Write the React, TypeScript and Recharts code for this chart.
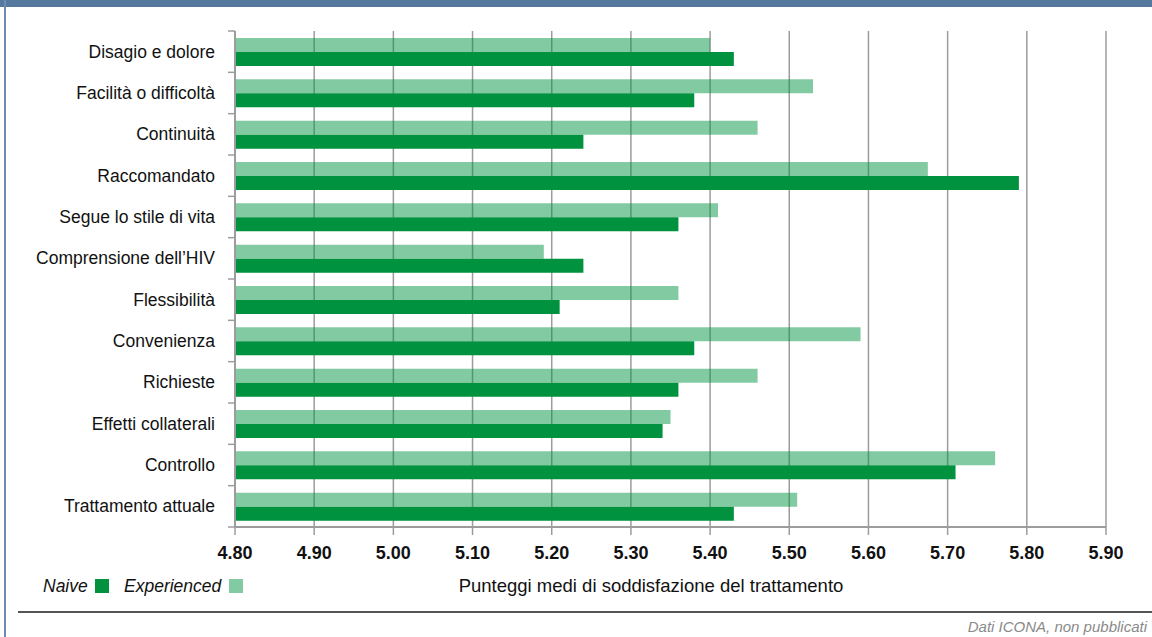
import React from "react";
import { BarChart, Bar, XAxis, YAxis, CartesianGrid } from "recharts";

const categories = [
  "Disagio e dolore",
  "Facilità o difficoltà",
  "Continuità",
  "Raccomandato",
  "Segue lo stile di vita",
  "Comprensione dell’HIV",
  "Flessibilità",
  "Convenienza",
  "Richieste",
  "Effetti collaterali",
  "Controllo",
  "Trattamento attuale",
];
const naive = [5.43, 5.38, 5.24, 5.79, 5.36, 5.24, 5.21, 5.38, 5.36, 5.34, 5.71, 5.43];
const experienced = [5.4, 5.53, 5.46, 5.675, 5.41, 5.19, 5.36, 5.59, 5.46, 5.35, 5.76, 5.51];
const xTicks = [4.8, 4.9, 5.0, 5.1, 5.2, 5.3, 5.4, 5.5, 5.6, 5.7, 5.8, 5.9];

const data = categories.map((name, i) => ({ name, naive: naive[i], experienced: experienced[i] }));

const GREEN = "#00923F";
const GRID = "#9c9c9c";
const FONT = '"Liberation Sans", Arial, sans-serif';

const YTick = (props: any) => {
  const { x, y, payload, index } = props;
  const off = payload && payload.offset ? payload.offset : 20.67;
  const axisX = x + 8;
  return (
    <g>
      <line x1={axisX - 7} x2={axisX} y1={y - off} y2={y - off} stroke={GRID} strokeWidth={1.5} />
      {index === categories.length - 1 && (
        <line x1={axisX - 7} x2={axisX} y1={y + off} y2={y + off} stroke={GRID} strokeWidth={1.5} />
      )}
      <text x={215} y={y} dy="0.35em" textAnchor="end" fontSize={17.5} fill="#111" fontFamily={FONT}>
        {payload.value}
      </text>
    </g>
  );
};

export default function App() {
  return (
    <div
      style={{
        position: "absolute",
        left: 0,
        top: 0,
        width: 1152,
        height: 637,
        background: "#fff",
        fontFamily: FONT,
        overflow: "hidden",
      }}
    >
      <div style={{ position: "absolute", left: 0, top: 0, width: 1152, height: 7, background: "#54789E" }} />
      <div style={{ position: "absolute", left: 4, top: 0, width: 2, height: 637, background: "#6A8CB0" }} />
      <div style={{ position: "absolute", left: 0, top: 0 }}>
        <BarChart
          width={1152}
          height={637}
          data={data}
          layout="vertical"
          margin={{ top: 31, right: 46, bottom: 70, left: 0 }}
          barGap={0}
        >
          <CartesianGrid horizontal={false} vertical={true} stroke={GRID} strokeWidth={1.5} />
          <XAxis
            type="number"
            domain={[4.8, 5.9]}
            ticks={xTicks}
            allowDataOverflow
            height={40}
            tickSize={8}
            tickMargin={11}
            tickFormatter={(v: number) => v.toFixed(2)}
            axisLine={{ stroke: GRID, strokeWidth: 2 }}
            tickLine={{ stroke: GRID, strokeWidth: 1.5 }}
            tick={{ fontSize: 18, fontWeight: "bold", fill: "#111", fontFamily: FONT }}
            interval={0}
          />
          <YAxis
            type="category"
            dataKey="name"
            width={235}
            axisLine={{ stroke: GRID, strokeWidth: 2 }}
            tickLine={false}
            tick={<YTick />}
            interval={0}
          />
          <Bar dataKey="experienced" fill={GREEN} fillOpacity={0.49} barSize={14} isAnimationActive={false} />
          <Bar dataKey="naive" fill={GREEN} barSize={14} isAnimationActive={false} />
        </BarChart>
      </div>
      <svg
        width={1152}
        height={637}
        style={{ position: "absolute", left: 0, top: 0, pointerEvents: "none" }}
      >
        <text x={43} y={592} fontSize={17.5} fontStyle="italic" fill="#111" fontFamily={FONT}>
          Naive
        </text>
        <rect x={95} y={579} width={14} height={14} fill={GREEN} />
        <text x={124} y={592} fontSize={17.5} fontStyle="italic" fill="#111" fontFamily={FONT}>
          Experienced
        </text>
        <rect x={229} y={579} width={14} height={14} fill={GREEN} fillOpacity={0.49} />
        <text x={651} y={592} fontSize={18.5} textAnchor="middle" fill="#111" fontFamily={FONT}>
          Punteggi medi di soddisfazione del trattamento
        </text>
        <line x1={18} x2={1152} y1={612} y2={612} stroke="#555" strokeWidth={2} />
        <text x={1147} y={632} fontSize={15} fontStyle="italic" textAnchor="end" fill="#8a8a8a" fontFamily={FONT}>
          Dati ICONA, non pubblicati
        </text>
      </svg>
    </div>
  );
}
